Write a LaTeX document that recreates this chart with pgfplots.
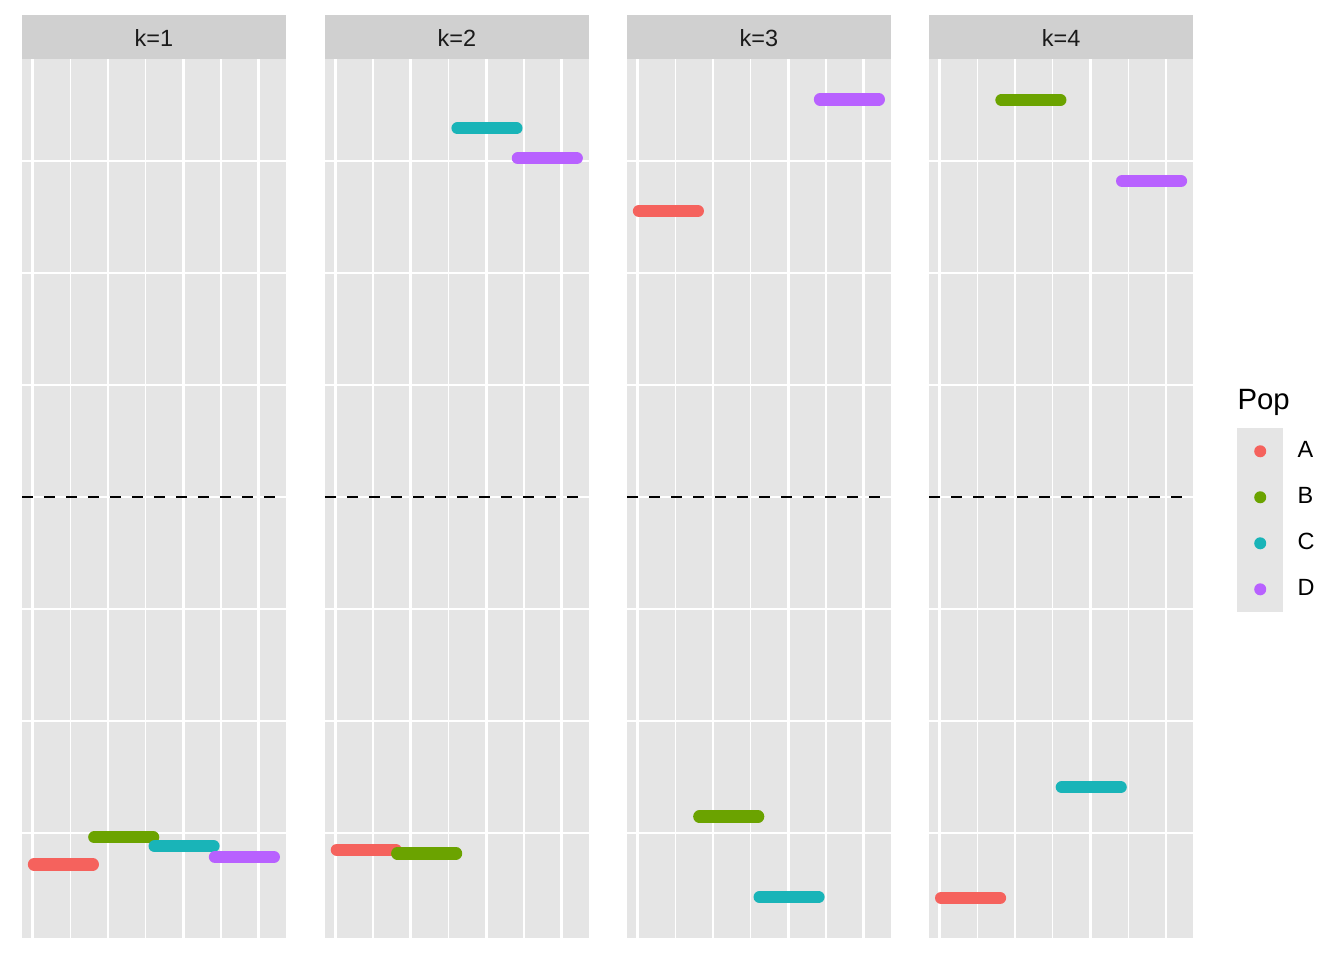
\documentclass[border=0pt]{standalone}
\usepackage{pgfplots}
\pgfplotsset{compat=1.18}
\usepackage{fontspec}
\setmainfont{Liberation Sans}
\definecolor{colA}{HTML}{F5625D}
\definecolor{colB}{HTML}{6BA300}
\definecolor{colC}{HTML}{19B4B8}
\definecolor{colD}{HTML}{B861FF}
\definecolor{panelgray}{HTML}{E5E5E5}
\definecolor{stripgray}{HTML}{D0D0D0}
\definecolor{striptext}{HTML}{1A1A1A}
\pgfplotsset{
 panel/.style={
  width=99.30pt, height=330.86pt, scale only axis,
  xmin=-6.95, xmax=167.95, ymin=-1.96875, ymax=1.955357,
  xtick={0,50,100,150}, minor xtick={25,75,125},
  ytick={-1,0,1}, minor ytick={-1.5,-0.5,0.5,1.5},
  xticklabels={}, yticklabels={},
  grid=both,
  major grid style={white, line width=1.0pt},
  minor grid style={white, line width=0.5pt},
  major tick length=0pt, minor tick length=0pt,
  axis line style={draw=none},
  axis background/.style={fill=panelgray},
  anchor=south west,
 },
 seg/.style={line width=4.63pt, line cap=round},
 zero/.style={forget plot, black, line width=1.1pt, dash pattern=on 4.14pt off 4.14pt},
}
\newcommand{\strip}[2]{%
 \fill[stripgray] (#1,339.15pt) rectangle ++(99.30pt,16.56pt);
 \node[anchor=base, inner sep=0pt, text=striptext, font=\fontsize{8.83}{10}\selectfont] at ([xshift=49.65pt]#1,343.7pt) {#2};}
\begin{document}
\begin{tikzpicture}
\path[use as bounding box] (0pt,0pt) rectangle (505.89pt,361.35pt);
% k=1
\begin{axis}[panel, at={(8.281pt,8.281pt)}]
\addplot[seg, colA] coordinates {(1,-1.640) (40,-1.640)};
\addplot[seg, colB] coordinates {(41,-1.519) (80,-1.519)};
\addplot[seg, colC] coordinates {(81,-1.559) (120,-1.559)};
\addplot[seg, colD] coordinates {(121,-1.607) (160,-1.607)};
\addplot[zero] coordinates {(-6.95,0) (167.95,0)};
\end{axis}
% k=2
\begin{axis}[panel, at={(122.296pt,8.281pt)}]
\addplot[seg, colA] coordinates {(1,-1.575) (40,-1.575)};
\addplot[seg, colB] coordinates {(41,-1.591) (80,-1.591)};
\addplot[seg, colC] coordinates {(81,1.646) (120,1.646)};
\addplot[seg, colD] coordinates {(121,1.512) (160,1.512)};
\addplot[zero] coordinates {(-6.95,0) (167.95,0)};
\end{axis}
% k=3
\begin{axis}[panel, at={(236.007pt,8.281pt)}]
\addplot[seg, colA] coordinates {(1,1.277) (40,1.277)};
\addplot[seg, colB] coordinates {(41,-1.427) (80,-1.427)};
\addplot[seg, colC] coordinates {(81,-1.786) (120,-1.786)};
\addplot[seg, colD] coordinates {(121,1.775) (160,1.775)};
\addplot[zero] coordinates {(-6.95,0) (167.95,0)};
\end{axis}
% k=4
\begin{axis}[panel, at={(349.74pt,8.281pt)},
  legend style={at={(1.1657,0.5805)}, anchor=north west, draw=none, fill=none,
    inner sep=0pt, row sep=0pt, column sep=3.4pt,
    font=\fontsize{8.83}{10}\selectfont, cells={anchor=west}},
  legend image code/.code={
    \fill[panelgray, draw=none] (0pt,-8.66pt) rectangle (17.31pt,8.66pt);
    \fill[draw=none] (8.66pt,0pt) circle (2.26pt);}
]
\addplot[seg, colA] coordinates {(1,-1.790) (40,-1.790)};
\addplot[seg, colB] coordinates {(41,1.772) (80,1.772)};
\addplot[seg, colC] coordinates {(81,-1.296) (120,-1.296)};
\addplot[seg, colD] coordinates {(121,1.411) (160,1.411)};
\addplot[zero] coordinates {(-6.95,0) (167.95,0)};
\legend{A,B,C,D}
\end{axis}
\strip{8.281pt}{k=1}
\strip{122.296pt}{k=2}
\strip{236.007pt}{k=3}
\strip{349.74pt}{k=4}
\node[anchor=base west, inner sep=0pt, font=\fontsize{11.04}{13}\selectfont] at (465.62pt,207.03pt) {Pop};
\end{tikzpicture}
\end{document}
